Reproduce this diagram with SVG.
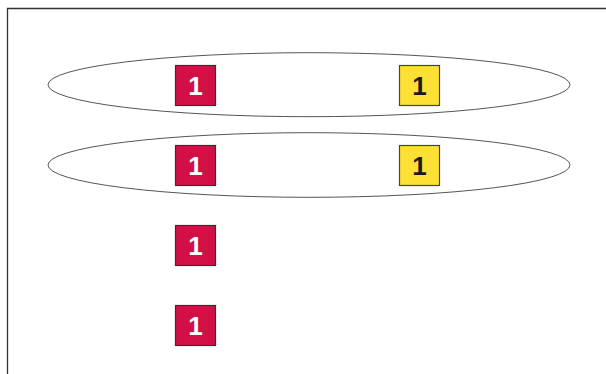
<svg xmlns="http://www.w3.org/2000/svg" width="606" height="374" viewBox="0 0 606 374">
<style>
.frame{fill:none;stroke:#333;stroke-width:1.3}
.group{fill:none;stroke:#555;stroke-width:1}
.red{fill:#D31045;stroke:#333;stroke-width:1.2}
.yel{fill:#FCE033;stroke:#444;stroke-width:1.2}
.t{font-family:"Liberation Sans",Arial,sans-serif;font-weight:bold;font-size:26px;text-anchor:middle}
.tw{fill:#fff}
.tb{fill:#1a1a1a}
</style>
<rect width="606" height="374" fill="#fff"/>
<path class="frame" d="M7.5 374 V8.5 H606"/>
<g id="connectors">
<ellipse id="group1" class="group" cx="309" cy="84.7" rx="261" ry="32"/>
<ellipse id="group2" class="group" cx="309" cy="165" rx="261" ry="32.3"/>
</g>
<g id="n1"><rect class="red" x="175.5" y="65.5" width="40" height="40"/><text class="t tw" x="195.5" y="94.5">1</text></g>
<g id="n2"><rect class="yel" x="399.5" y="65.5" width="40" height="40"/><text class="t tb" x="419.5" y="94.5">1</text></g>
<g id="n3"><rect class="red" x="175.5" y="145.5" width="40" height="40"/><text class="t tw" x="195.5" y="174.5">1</text></g>
<g id="n4"><rect class="yel" x="399.5" y="145.5" width="40" height="40"/><text class="t tb" x="419.5" y="174.5">1</text></g>
<g id="n5"><rect class="red" x="175.5" y="225.5" width="40" height="40"/><text class="t tw" x="195.5" y="254.5">1</text></g>
<g id="n6"><rect class="red" x="175.5" y="305.5" width="40" height="40"/><text class="t tw" x="195.5" y="334.5">1</text></g>
</svg>
